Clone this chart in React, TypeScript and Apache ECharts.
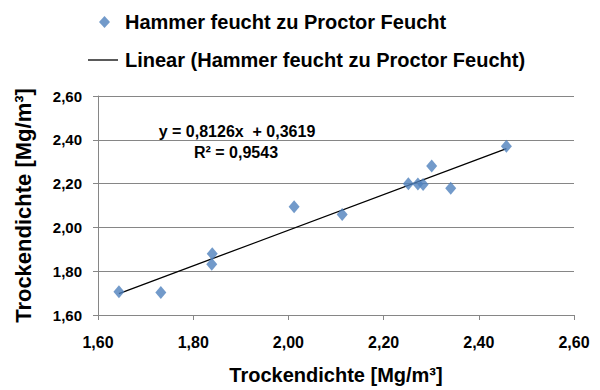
import React, { useEffect, useRef } from "react";
import * as echarts from "echarts";

const xValues = [1.644, 1.732, 1.840, 1.839, 2.012, 2.113, 2.252, 2.272, 2.283, 2.301, 2.341, 2.458];
const yValues = [1.706, 1.703, 1.880, 1.832, 2.094, 2.059, 2.199, 2.198, 2.196, 2.280, 2.179, 2.370];
const slope = 0.8126;
const intercept = 0.3619;
const seriesName = "Hammer feucht zu Proctor Feucht";
const trendName = "Linear (Hammer feucht zu Proctor Feucht)";
const equationText = "y = 0,8126x  + 0,3619";
const r2Text = "R² = 0,9543";
const axisTitle = "Trockendichte [Mg/m³]";

const fmt = (v: number) => v.toFixed(2).replace(".", ",");
const FONT = "'Liberation Sans', Arial, sans-serif";

export default function App() {
  const ref = useRef<HTMLDivElement>(null);
  useEffect(() => {
    if (!ref.current) return;
    const chart = echarts.init(ref.current, undefined, { renderer: "svg" });
    const pts = xValues.map((x, i) => [x, yValues[i]]);
    const xmin = Math.min(...xValues);
    const xmax = Math.max(...xValues);
    const trend = [
      [xmin, slope * xmin + intercept],
      [xmax, slope * xmax + intercept],
    ];
    chart.setOption({
      animation: false,
      backgroundColor: "#fff",
      textStyle: { fontFamily: FONT },
      grid: { left: 98, right: 26, top: 96, bottom: 74, containLabel: false },
      legend: [
        {
          data: [{ name: seriesName, icon: "diamond" }],
          left: 94,
          top: 7,
          itemWidth: 11,
          itemHeight: 12,
          textStyle: { fontFamily: FONT, fontWeight: "bold", fontSize: 20, color: "#000", padding: [0, 0, 0, 10] },
        },
        {
          data: [{ name: trendName, icon: "rect" }],
          left: 83,
          top: 45,
          itemWidth: 30,
          itemHeight: 1.3,
          textStyle: { fontFamily: FONT, fontWeight: "bold", fontSize: 20, color: "#000", padding: [0, 0, 0, 2] },
        },
      ],
      xAxis: {
        type: "value",
        min: 1.6,
        max: 2.6,
        interval: 0.2,
        name: axisTitle,
        nameLocation: "middle",
        nameGap: 50,
        nameTextStyle: { fontFamily: FONT, fontWeight: "bold", fontSize: 20, color: "#000" },
        axisLine: { show: true, lineStyle: { color: "#868686" } },
        axisTick: { show: true, inside: false, length: 5, lineStyle: { color: "#868686" } },
        axisLabel: { fontFamily: FONT, fontWeight: "bold", fontSize: 16, color: "#000", formatter: fmt, margin: 19 },
        splitLine: { show: false },
      },
      yAxis: {
        type: "value",
        min: 1.6,
        max: 2.6,
        interval: 0.2,
        name: axisTitle,
        nameLocation: "middle",
        nameGap: 64,
        nameRotate: 90,
        nameTextStyle: { fontFamily: FONT, fontWeight: "bold", fontSize: 22, color: "#000" },
        axisLine: { show: true, lineStyle: { color: "#868686" } },
        axisTick: { show: true, length: 5, lineStyle: { color: "#868686" } },
        axisLabel: {
          fontFamily: FONT,
          fontWeight: "bold",
          fontSize: 15,
          color: "#000",
          formatter: fmt,
          margin: 16,
          padding: [8, 0, 0, 0],
        },
        splitLine: { show: true, lineStyle: { color: "#868686", width: 1 } },
      },
      series: [
        {
          name: seriesName,
          type: "scatter",
          data: pts,
          symbol: "diamond",
          symbolSize: [11, 13],
          itemStyle: { color: "#4F81BD" },
          z: 3,
        },
        {
          name: trendName,
          type: "line",
          data: trend,
          showSymbol: false,
          symbol: "none",
          lineStyle: { color: "#000", width: 1.3 },
          itemStyle: { color: "#000" },
          z: 2,
        },
      ],
      graphic: [
        {
          type: "text",
          x: 237,
          y: 131,
          style: {
            text: equationText,
            font: `bold 16px ${FONT}`,
            fill: "#000",
            align: "center",
            verticalAlign: "middle",
          },
        },
        {
          type: "text",
          x: 236,
          y: 152,
          style: {
            text: r2Text,
            font: `bold 16px ${FONT}`,
            fill: "#000",
            align: "center",
            verticalAlign: "middle",
          },
        },
      ],
    });
    return () => chart.dispose();
  }, []);
  return <div ref={ref} style={{ width: 600, height: 390, position: "absolute", left: 0, top: 0 }} />;
}
